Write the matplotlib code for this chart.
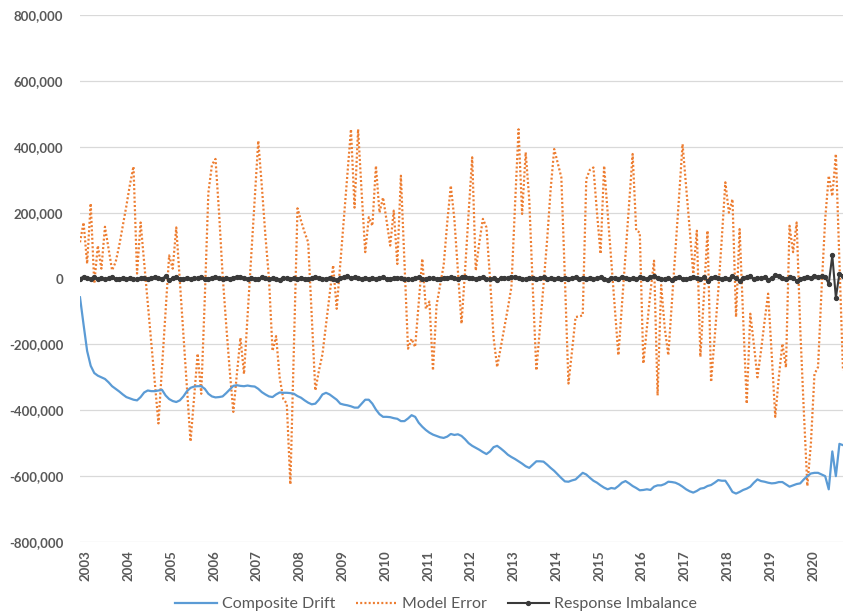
import matplotlib
matplotlib.use("Agg")
import matplotlib.pyplot as plt
from matplotlib.ticker import FuncFormatter
import numpy as np

plt.rcParams['font.family'] = ['Lato', 'DejaVu Sans']

years = [str(y) for y in range(2003, 2021)]
series_names = ["Composite Drift", "Model Error", "Response Imbalance"]

# values in thousands, monthly from Jan 2003
composite_drift = [
    -57, -140, -220, -265, -287, -295, -300, -305, -315, -327, -335, -343,
    -352, -360, -364, -368, -370, -360, -346, -340, -342, -342, -340, -338,
    -355, -366, -372, -375, -370, -358, -342, -332, -328, -327, -327, -335,
    -350, -358, -361, -360, -358, -348, -337, -326, -324, -326, -327, -325,
    -327, -328, -335, -345, -352, -358, -360, -352, -346, -347, -347, -348,
    -350, -357, -362, -370, -377, -382, -380, -368, -352, -347, -352, -360,
    -368, -380, -383, -385, -388, -392, -392, -380, -368, -368, -380, -398,
    -412, -420, -420, -421, -424, -426, -433, -433, -425, -415, -420, -438,
    -450, -460, -468, -474, -478, -482, -484, -480, -472, -475, -473, -478,
    -488, -500, -508, -514, -520, -527, -533, -525, -512, -508, -516, -525,
    -535, -542, -548, -555, -562, -570, -575, -565, -555, -555, -556, -565,
    -575, -584, -595, -606, -616, -617, -613, -610, -600, -590, -595, -605,
    -614, -620, -628, -635, -640, -636, -638, -630, -620, -615, -622, -630,
    -636, -643, -642, -640, -642, -632, -628, -628, -624, -617, -618, -620,
    -625, -632, -640, -646, -650, -645, -638, -636, -630, -627, -620, -612,
    -614, -614, -630, -648, -653, -648, -642, -638, -632, -620, -610, -615,
    -617, -620, -622, -621, -618, -618, -625, -632, -628, -624, -622, -610,
    -600, -592, -590, -590, -595, -600, -640, -525, -600, -502, -506,
]

model_error = [
    110, 170, 45, 228, -15, 100, 30, 157, 90, 25, 50, 100,
    160, 220, 285, 340, 15, 170, 48, -74, -196, -318, -440, -270,
    -100, 70, 30, 155, -8, -170, -333, -495, -360, -228, -350, -60,
    260, 345, 363, 200, 10, -140, -280, -405, -290, -180, -290, -113,
    64, 241, 418, 280, 130, 0, -220, -175, -300, -365, -380, -625,
    -200, 213, 175, 140, 110, -115, -340, -280, -230, -140, -50, 40,
    -92, 44, 180, 317, 453, 215, 453, 260, 80, 186, 160, 342,
    200, 246, 175, 100, 206, 44, 312, 50, -213, -183, -208, -75,
    60, -92, -70, -279, -82, -20, 40, 170, 282, 180, 20, -137,
    24, 200, 368, 24, 110, 181, 155, 0, -180, -269, -210, -150,
    -90, -26, 220, 453, 196, 383, 240, -30, -279, -150, -20, 115,
    270, 393, 350, 307, 0, -319, -220, -117, -115, -112, 302, 330,
    337, 200, 75, 342, 198, 54, -90, -233, -80, 73, 225, 378,
    145, 140, -258, -150, -40, 54, -355, -20, -150, -233, -75, 85,
    245, 408, 280, 150, 14, 145, -238, -50, 145, -314, -180, -40,
    120, 292, 200, 241, -117, 150, -120, -380, -107, -200, -300, -220,
    -130, -46, -230, -420, -300, -198, -270, 160, 80, 170, -150, -400,
    -630, -500, -290, -269, -30, 180, 312, 250, 378, 50, -280,
]

response_imbalance = [
    0, 6, 3, -2, 4, -1, 2, -3, 1, 4, -2, 0,
    2, -1, 3, 0, -2, 1, 3, -1, 2, 5, 3, -1,
    7, -6, 2, 4, -1, 0, 3, -2, 1, 2, 4, -1,
    0, 3, 5, 1, -2, 2, 0, 3, 6, 5, 2, -1,
    3, 0, -2, 4, 1, -3, 2, -1, -4, 3, 1, 0,
    2, -1, 3, 0, -2, 1, 4, 2, -1, 0, 3, -2,
    -6, 2, 5, 8, 2, 4, 1, -1, 3, 0, 2, -1,
    1, 4, 0, -2, 2, 1, 3, -1, 0, -3, 2, 4,
    0, -3, 1, 2, -2, 0, 3, 1, 5, 2, 0, 4,
    6, 3, 1, -1, 2, 4, 0, -2, 1, -6, 2, 3,
    1, 4, 6, 2, 0, -1, 3, 1, -2, 2, 4, 0,
    1, -3, 2, 0, 3, -1, 2, 4, -2, 1, 0, 3,
    -2, 1, 4, 0, -4, 3, 2, -1, 6, 2, -3, 1,
    0, 4, 2, -2, 5, 8, 3, -3, 0, 2, -5, 3,
    4, 0, -3, 2, 5, 1, -2, 4, -7, 2, 6, 1,
    -3, 3, -1, 8, 2, -8, 1, 4, 9, -2, 3, 1,
    5, -4, 2, 10, 9, 3, -3, 4, 1, -7, 0, 3,
    6, 2, 9, 4, 8, 5, -16, 70, -58, 15, 8,
]

n = min(len(composite_drift), len(model_error), len(response_imbalance))
x = np.arange(n)
cd = np.array(composite_drift[:n]) * 1000
me = np.array(model_error[:n]) * 1000
ri = np.array(response_imbalance[:n]) * 1000

fig = plt.figure(figsize=(8.43, 6.16), dpi=100)
ax = fig.add_axes([80 / 843, 1 - 542 / 616, 1 - 80 / 843, (542 - 15) / 616])

ax.plot(x, cd, color="#5B9BD5", lw=1.6, label=series_names[0], zorder=3)
ax.plot(x, me, color="#ED7D31", lw=1.6, linestyle=(0, (0.9, 1.0)),
        label=series_names[1], zorder=2)
ax.plot(x, ri, color="#3A3A3A", lw=1.5, marker="o", markersize=2.8,
        markerfacecolor="#3A3A3A", markeredgecolor="#3A3A3A",
        label=series_names[2], zorder=4)

ax.set_xlim(0, n - 1)
ax.set_ylim(-800000, 800000)
ax.set_yticks(np.arange(-800000, 800001, 200000))
ax.yaxis.set_major_formatter(FuncFormatter(lambda v, p: f"{int(v):,}"))
ax.set_xticks([12 * k + 1.6 for k in range(len(years))])
ax.set_xticklabels(years, rotation=90, va="top", ha="center")

ax.grid(axis="y", color="#D9D9D9", lw=0.9)
ax.set_axisbelow(True)
for s in ax.spines.values():
    s.set_visible(False)
ax.tick_params(axis="both", length=0, colors="#595959", labelsize=9.5)
ax.tick_params(axis="x", pad=6)
ax.tick_params(axis="y", pad=12)
for lbl in ax.get_yticklabels() + ax.get_xticklabels():
    lbl.set_fontweight("bold")

leg = fig.legend(loc="center", bbox_to_anchor=(436 / 843, 1 - 604 / 616), ncol=3,
                 frameon=False, fontsize=11.5, handlelength=2.6,
                 columnspacing=1.3, handletextpad=0.3, numpoints=1)
for t in leg.get_texts():
    t.set_color("#595959")

fig.savefig("out.png", dpi=100)
